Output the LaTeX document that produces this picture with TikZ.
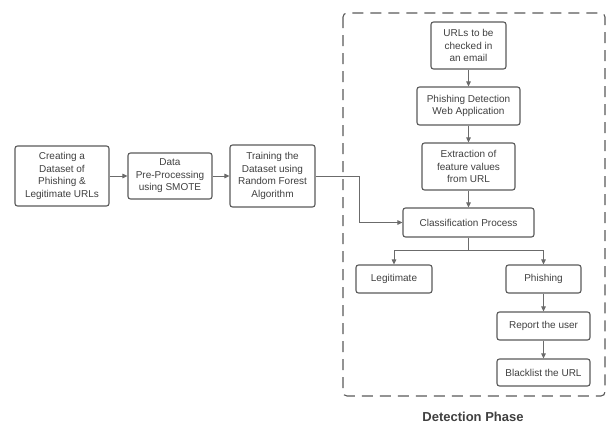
\documentclass[tikz,border=0pt]{standalone}
\usepackage{fontspec}
\setmainfont{Liberation Sans}
\usetikzlibrary{arrows.meta,calc}
\definecolor{boxline}{HTML}{5A5A5A}
\definecolor{txt}{HTML}{404040}
\tikzset{
  box/.style={draw=boxline, line width=1.1pt, rounded corners=2.5pt, inner sep=0pt,
    align=center, text=txt, font=\fontsize{10}{12.5}\selectfont},
  conn/.style={draw=boxline!90, line width=0.9pt, -{Triangle[length=5pt,width=4.5pt]}},
  phase/.style={draw=boxline, line width=1.1pt, dash pattern=on 11pt off 7pt, rounded corners=4pt}
}
\begin{document}
\begin{tikzpicture}[x=1pt,y=-1pt]
\useasboundingbox[fill=white] (0,0) rectangle (611,426);
\draw[phase] (343,13) rectangle (605,396);
\node[box, minimum width=94pt, minimum height=60pt] (b1) at (62,176) {Creating a\\Dataset of\\Phishing \&\\Legitimate URLs};
\node[box, minimum width=84pt, minimum height=46pt] (b2) at (170,176) {Data\\Pre-Processing\\using SMOTE};
\node[box, minimum width=85pt, minimum height=62pt] (b3) at (272.5,176) {Training the\\Dataset using\\Random Forest\\Algorithm};
\node[box, minimum width=75pt, minimum height=47pt] (u) at (468.5,45.5) {URLs to be\\checked in\\an email};
\node[box, minimum width=103pt, minimum height=38pt] (w) at (468.5,106) {Phishing Detection\\Web Application};
\node[box, minimum width=93pt, minimum height=47pt] (e) at (468.5,166.5) {Extraction of\\feature values\\from URL};
\node[box, minimum width=131pt, minimum height=29pt] (c) at (468.5,222.5) {Classification Process};
\node[box, minimum width=76pt, minimum height=28pt] (l) at (394,279) {Legitimate};
\node[box, minimum width=75pt, minimum height=28pt] (p) at (543.5,279) {Phishing};
\node[box, minimum width=93pt, minimum height=28pt] (r) at (543.5,326) {Report the user};
\node[box, minimum width=93pt, minimum height=27pt] (bl) at (543.5,372.5) {Blacklist the URL};
\node[text=txt, font=\bfseries\fontsize{13}{15}\selectfont] (dp) at (473,417) {Detection Phase};
\draw[conn] (b1) -- (b2);
\draw[conn] (b2) -- (b3);
\draw[conn] (b3.east) -- (359,176) |- (c.west);
\draw[conn] (u) -- (w);
\draw[conn] (w) -- (e);
\draw[conn] (e) -- (c);
\coordinate (split) at ($(c.south)+(0,13)$);
\draw[draw=boxline!90, line width=0.9pt] (c.south) -- (split);
\draw[conn] (split) -| (l.north);
\draw[conn] (split) -| (p.north);
\draw[conn] (p) -- (r);
\draw[conn] (r) -- (bl);
\end{tikzpicture}
\end{document}
